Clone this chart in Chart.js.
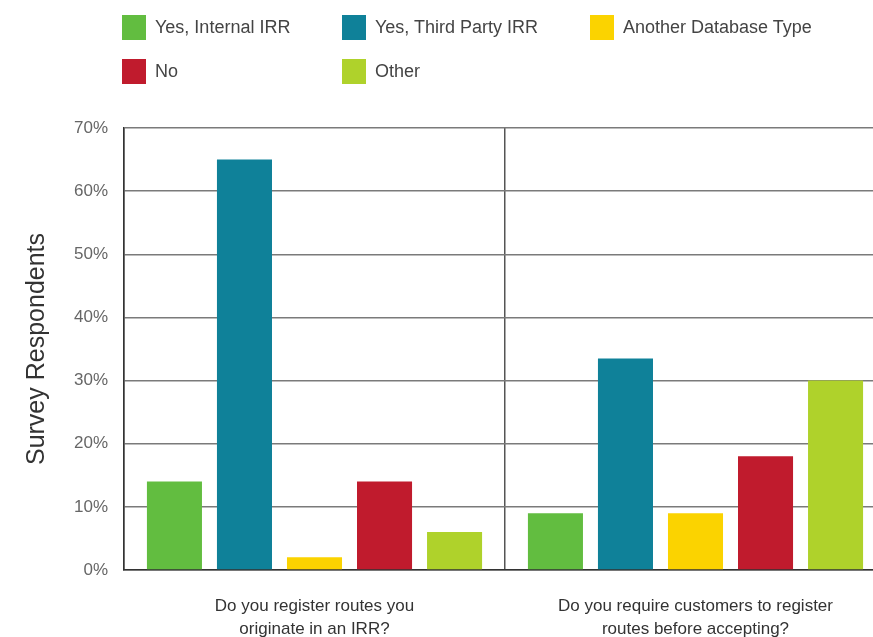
<!DOCTYPE html>
<html>
<head>
<meta charset="utf-8">
<title>IRR route registration survey</title>
<script src="https://cdn.jsdelivr.net/npm/chart.js@4/dist/chart.umd.min.js"></script>
<style>
  html, body { margin: 0; padding: 0; background: #fff; overflow: hidden; }
  #wrap { position: relative; width: 873px; height: 637px; overflow: hidden; }
  #irrChart { position: absolute; left: 0; top: 0; }
  #legend {
    position: absolute; left: 122px; top: 15px;
    display: grid; grid-template-columns: 220px 248px 260px; row-gap: 19px;
    font-family: "Liberation Sans", Arial, sans-serif; font-size: 18px; color: #444;
  }
  .item { display: flex; align-items: center; height: 25px; }
  .swatch { width: 24px; height: 25px; margin-right: 9px; flex: none; }
</style>
</head>
<body>
<div id="wrap">
  <canvas id="irrChart" width="900" height="637"></canvas>
  <div id="legend"></div>
</div>
<script>
// Survey answers, percent of respondents
const questions = [
  ['Do you register routes you', 'originate in an IRR?'],
  ['Do you require customers to register', 'routes before accepting?']
];
const answers = ['Yes, Internal IRR', 'Yes, Third Party IRR', 'Another Database Type', 'No', 'Other'];
const answerColors = ['#62bd40', '#0f8199', '#fbd300', '#c01b2d', '#afd22b'];
const internalIrr = [14, 9];
const thirdPartyIrr = [65, 33.5];
const otherDatabase = [2, 9];
const noIrr = [14, 18];
const otherAnswer = [6, 30];
const yTicks = [0, 10, 20, 30, 40, 50, 60, 70];

const seriesValues = [internalIrr, thirdPartyIrr, otherDatabase, noIrr, otherAnswer];
const fontFamily = '"Liberation Sans", Arial, sans-serif';

const ctx = document.getElementById('irrChart').getContext('2d');
const irrChart = new Chart(ctx, {
  type: 'bar',
  data: {
    labels: questions,
    datasets: answers.map((name, i) => ({
      label: name,
      data: seriesValues[i],
      backgroundColor: answerColors[i],
      borderWidth: 0
    }))
  },
  options: {
    responsive: false,
    animation: false,
    categoryPercentage: 0.919,
    barPercentage: 0.786,
    layout: { padding: { top: 128, right: 14, left: 22, bottom: 0 } },
    plugins: {
      legend: { display: false },
      tooltip: { enabled: false }
    },
    scales: {
      x: {
        offset: true,
        grid: { offset: true, color: '#555', lineWidth: 1.5, drawTicks: false },
        border: { color: '#333', width: 1.5 },
        ticks: {
          color: '#333',
          padding: 24,
          maxRotation: 0,
          font: { family: fontFamily, size: 17, lineHeight: 1.4 }
        },
        afterFit: scale => { scale.height = 67; }
      },
      y: {
        min: 0,
        max: 70,
        afterBuildTicks: scale => { scale.ticks = yTicks.map(v => ({ value: v })); },
        grid: { color: '#7a7a7a', lineWidth: 1.5, drawTicks: false },
        border: { color: '#333', width: 1.5 },
        ticks: {
          color: '#666',
          padding: 16,
          font: { family: fontFamily, size: 17 },
          callback: v => v + '%'
        },
        title: {
          display: true,
          text: 'Survey Respondents',
          color: '#333',
          padding: { top: 0, bottom: 12 },
          font: { family: fontFamily, size: 25 }
        },
        afterFit: scale => { scale.width = 102; }
      }
    }
  }
});

// Legend laid out in fixed columns, built from the chart's datasets
const legendEl = document.getElementById('legend');
irrChart.data.datasets.forEach(ds => {
  const item = document.createElement('div');
  item.className = 'item';
  const sw = document.createElement('span');
  sw.className = 'swatch';
  sw.style.background = ds.backgroundColor;
  const txt = document.createElement('span');
  txt.textContent = ds.label;
  item.appendChild(sw);
  item.appendChild(txt);
  legendEl.appendChild(item);
});
</script>
</body>
</html>
